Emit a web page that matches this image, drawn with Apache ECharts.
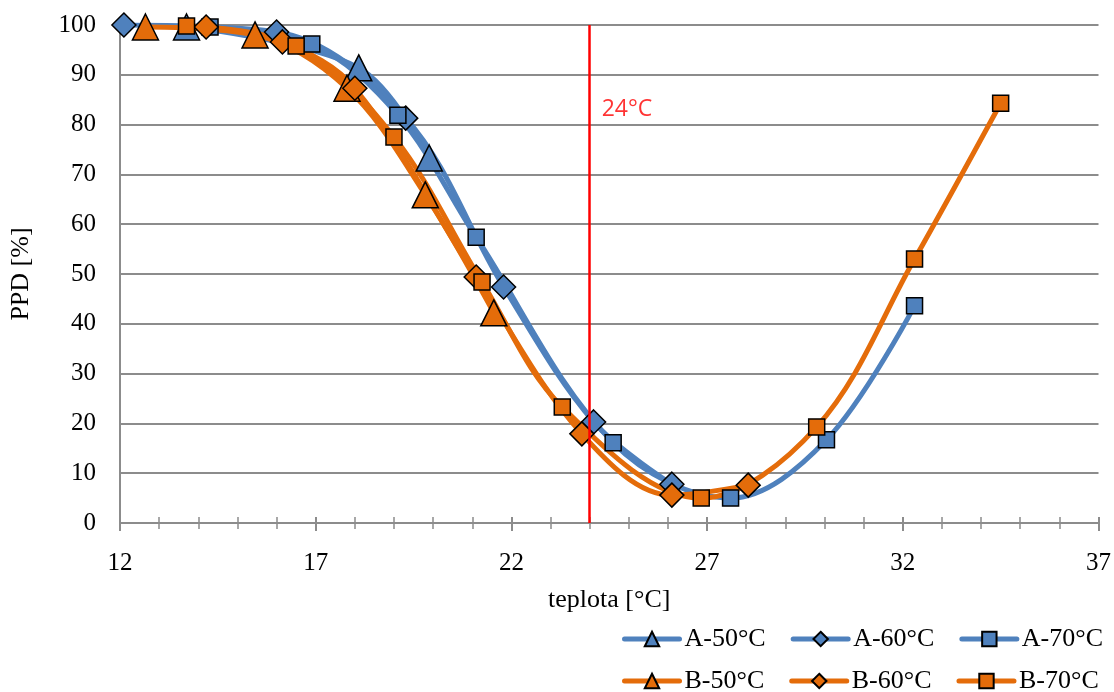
<!DOCTYPE html>
<html>
<head>
<meta charset="utf-8">
<script src="https://cdn.jsdelivr.net/npm/echarts@6/dist/echarts.min.js"></script>
<style>html,body{margin:0;padding:0;background:#fff}#c{width:1114px;height:692px}</style>
</head>
<body>
<div id="c"></div>
<script>
// Data: [teplota °C, PPD %]
const a50 = [[13.7, 99.6], [18.1, 91.4], [19.9, 73.3]];
const a60 = [[12.1, 100.0], [16.0, 98.6], [19.3, 81.3], [21.8, 47.4], [24.1, 20.3], [26.1, 7.8]];
const a70 = [[14.3, 99.6], [16.9, 96.2], [19.1, 81.9], [21.1, 57.4], [24.6, 16.1], [27.6, 5.0], [30.05, 16.7], [32.3, 43.6]];
const b50 = [[12.65, 99.6], [15.45, 98.0], [17.8, 87.3], [19.8, 65.9], [21.55, 42.2]];
const b60 = [[14.2, 99.6], [16.15, 96.6], [18.0, 87.3], [21.1, 49.4], [23.8, 17.9], [26.1, 5.6], [28.05, 7.6]];
const b70 = [[13.7, 99.8], [16.5, 95.8], [19.0, 77.5], [21.25, 48.4], [23.3, 23.3], [26.85, 5.0], [29.8, 19.3], [32.3, 53.0], [34.5, 84.3]];
const refTemp = 24;
const refLabel = '24°C';
const seriesNames = ['A-50°C', 'A-60°C', 'A-70°C', 'B-50°C', 'B-60°C', 'B-70°C'];
const xTicks = {min: 12, max: 37, step: 5};
const yTicks = {min: 0, max: 100, step: 10};

const BLUE = '#4F81BD', ORANGE = '#E46C0A';
const SERIF = '"Liberation Serif", "Times New Roman", serif';

function mk(name, data, color, symbol, size) {
  return {
    name: name, type: 'line', data: data, smooth: 0.35,
    symbol: symbol, symbolSize: size,
    lineStyle: {color: color, width: 5},
    itemStyle: {color: color, borderColor: '#000', borderWidth: 1.5},
    emphasis: {disabled: true}, animation: false, z: 3
  };
}

const series = [
  mk(seriesNames[0], a50, BLUE, 'triangle', 26),
  mk(seriesNames[1], a60, BLUE, 'diamond', 24),
  mk(seriesNames[2], a70, BLUE, 'rect', 16),
  mk(seriesNames[3], b50, ORANGE, 'triangle', 26),
  mk(seriesNames[4], b60, ORANGE, 'diamond', 24),
  mk(seriesNames[5], b70, ORANGE, 'rect', 16),
  {
    name: 'ref', type: 'line', data: [], silent: true, animation: false, z: 2,
    markLine: {
      silent: true, symbol: 'none', animation: false,
      lineStyle: {color: '#FF0000', width: 2.5, type: 'solid'},
      label: {show: false},
      data: [{xAxis: refTemp}]
    }
  },
  {
    name: 'refLabel', type: 'scatter', data: [[refTemp, 83]], symbolSize: 0, silent: true, animation: false,
    label: {show: true, position: 'right', distance: 12, formatter: refLabel, color: '#FF0000',
      fontFamily: '"Open Sans", sans-serif', fontSize: 23}
  }
];

const legendCommon = {
  left: 622, itemWidth: 55, itemHeight: 18, itemGap: 25, padding: 0,
  textStyle: {fontFamily: SERIF, fontSize: 26, color: '#000'},
  lineStyle: {width: 5, cap: 'round'},
  selectedMode: false
};

const option = {
  backgroundColor: '#fff',
  animation: false,
  grid: {left: 120, right: 14, top: 25, bottom: 169, containLabel: false},
  legend: [
    Object.assign({}, legendCommon, {top: 626, data: seriesNames.slice(0, 3)}),
    Object.assign({}, legendCommon, {top: 668, data: seriesNames.slice(3)})
  ],
  xAxis: [
    {
      type: 'value', min: xTicks.min, max: xTicks.max, interval: xTicks.step,
      name: 'teplota [°C]', nameLocation: 'middle', nameGap: 64,
      nameTextStyle: {fontFamily: SERIF, fontSize: 26, color: '#000'},
      axisLine: {lineStyle: {color: '#8c8c8c', width: 2}},
      axisTick: {show: true, inside: false, length: 8, lineStyle: {color: '#8c8c8c', width: 2}},
      minorTick: {show: true, splitNumber: 5, length: 6, lineStyle: {color: '#8c8c8c', width: 1.5}},
      axisLabel: {fontFamily: SERIF, fontSize: 25, color: '#000', margin: 28},
      splitLine: {show: false}
    },
    {
      type: 'value', min: xTicks.min, max: xTicks.max, interval: xTicks.step, position: 'bottom',
      axisLine: {show: false},
      axisTick: {show: true, inside: true, length: 6, lineStyle: {color: '#8c8c8c', width: 2}},
      minorTick: {show: true, splitNumber: 5, length: 6, lineStyle: {color: '#8c8c8c', width: 1.5}},
      axisLabel: {show: false}, splitLine: {show: false}
    }
  ],
  yAxis: {
    type: 'value', min: yTicks.min, max: yTicks.max, interval: yTicks.step,
    name: 'PPD [%]', nameLocation: 'middle', nameGap: 86, nameRotate: 90,
    nameTextStyle: {fontFamily: SERIF, fontSize: 26, color: '#000'},
    axisLine: {show: true, lineStyle: {color: '#8c8c8c', width: 2}},
    axisTick: {show: false},
    axisLabel: {fontFamily: SERIF, fontSize: 25, color: '#000', margin: 24},
    splitLine: {show: true, lineStyle: {color: '#8c8c8c', width: 2}}
  },
  series: series
};

const chart = echarts.init(document.getElementById('c'), null, {renderer: 'canvas'});
chart.setOption(option);
</script>
</body>
</html>
